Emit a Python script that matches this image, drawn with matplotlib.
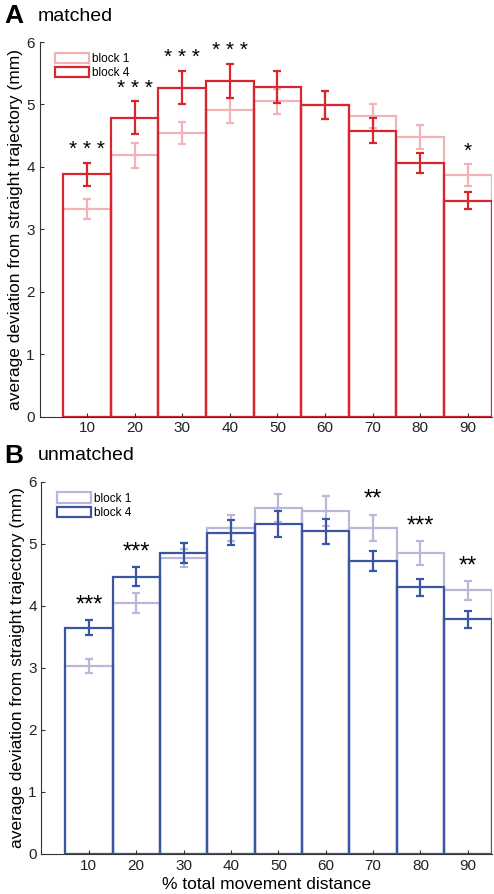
import numpy as np
import matplotlib
matplotlib.use("Agg")
import matplotlib.pyplot as plt
from matplotlib.patches import Patch

plt.rcParams['font.family'] = ['Liberation Sans', 'DejaVu Sans']

dist = [10, 20, 30, 40, 50, 60, 70, 80, 90]

# panel A - matched
a_b1 = [3.32, 4.19, 4.54, 4.91, 5.05, 4.99, 4.82, 4.48, 3.87]
a_b1_err = [0.16, 0.20, 0.18, 0.20, 0.20, 0.22, 0.19, 0.19, 0.17]
a_b4 = [3.88, 4.79, 5.27, 5.38, 5.28, 4.99, 4.58, 4.06, 3.46]
a_b4_err = [0.18, 0.26, 0.27, 0.27, 0.26, 0.22, 0.20, 0.16, 0.13]
a_stars = ['* * *', '* * *', '* * *', '* * *', '', '', '', '', '*']

# panel B - unmatched
b_b1 = [3.03, 4.05, 4.77, 5.25, 5.58, 5.53, 5.26, 4.85, 4.25]
b_b1_err = [0.12, 0.16, 0.15, 0.21, 0.22, 0.24, 0.21, 0.19, 0.15]
b_b4 = [3.65, 4.47, 4.85, 5.18, 5.32, 5.20, 4.72, 4.30, 3.78]
b_b4_err = [0.12, 0.15, 0.16, 0.20, 0.21, 0.20, 0.16, 0.14, 0.14]
b_stars = ['***', '***', '', '', '', '', '**', '***', '**']


def panel(ax, b1, e1, b4, e4, stars, light, dark, starsize):
    x = np.array(dist)
    ax.bar(x, b1, width=10, fill=False, edgecolor=light, linewidth=1.6)
    ax.bar(x, b4, width=10, fill=False, edgecolor=dark, linewidth=1.6)
    ax.errorbar(x, b1, yerr=e1, fmt='none', ecolor=light, elinewidth=1.6,
                capsize=2.8, capthick=1.6)
    ax.errorbar(x, b4, yerr=e4, fmt='none', ecolor=dark, elinewidth=1.6,
                capsize=2.8, capthick=1.6)
    tops = np.maximum(np.array(b1) + np.array(e1), np.array(b4) + np.array(e4))
    for xi, t, s in zip(x, tops, stars):
        if s:
            ax.text(xi, t + 0.06, s, ha='center', va='bottom', fontsize=starsize)
    ax.set_xlim(0, 95)
    ax.set_ylim(0, 6)
    ax.set_xticks(dist)
    ax.set_yticks(range(7))
    ax.spines['top'].set_visible(False)
    ax.spines['right'].set_visible(False)
    for sp in ['left', 'bottom']:
        ax.spines[sp].set_color('#333333')
    ax.tick_params(direction='in', length=3, labelsize=11, colors='#333333',
                   labelcolor='#222222')
    ax.set_ylabel('average deviation from straight trajectory (mm)',
                  fontsize=12.5, labelpad=2)
    handles = [Patch(facecolor='none', edgecolor=light, linewidth=1.6, label='block 1'),
               Patch(facecolor='none', edgecolor=dark, linewidth=1.6, label='block 4')]
    ax.legend(handles=handles, loc='upper left', frameon=False, fontsize=8.5,
              handlelength=2.9, handleheight=1.0, handletextpad=0.3,
              labelspacing=0.15, bbox_to_anchor=(0.01, 1.0))


fig = plt.figure(figsize=(4.94, 8.94), dpi=100)
axA = fig.add_axes([0.080, 0.534, 0.915, 0.419])
axB = fig.add_axes([0.084, 0.045, 0.911, 0.416])

panel(axA, a_b1, a_b1_err, a_b4, a_b4_err, a_stars, '#F2B3B6', '#D9262E', 15)
panel(axB, b_b1, b_b1_err, b_b4, b_b4_err, b_stars, '#B9B8DB', '#3A56A2', 17)
axB.set_xlabel('% total movement distance', fontsize=12.5, labelpad=3)

fig.text(0.008, 0.982, 'A', fontsize=19, fontweight='bold', va='center')
fig.text(0.077, 0.982, 'matched', fontsize=14, va='center')
fig.text(0.008, 0.490, 'B', fontsize=19, fontweight='bold', va='center')
fig.text(0.077, 0.490, 'unmatched', fontsize=14, va='center')

fig.savefig('out.png', dpi=100)
